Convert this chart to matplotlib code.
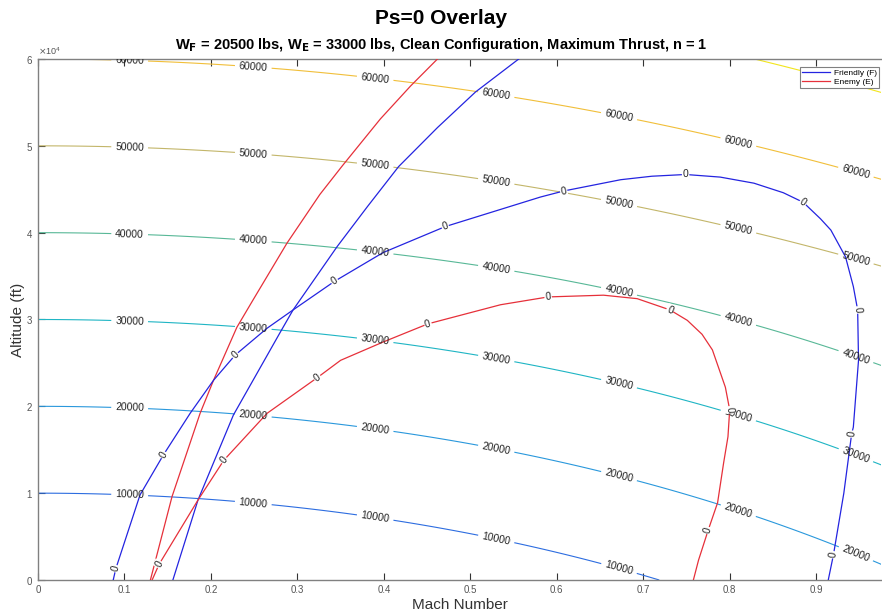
import numpy as np
import matplotlib
matplotlib.use("Agg")
import matplotlib.pyplot as plt
from matplotlib.lines import Line2D

plt.rcParams['font.family'] = ['Liberation Sans', 'DejaVu Sans']

# energy height levels (ft) and their line colours (parula-like)
ENERGY_LEVELS = [10000, 20000, 30000, 40000, 50000, 60000, 70000]
ENERGY_COLORS = ['#2d6de0', '#2a98dc', '#1fb5c4', '#58b897', '#c3b66a', '#f1bf3a', '#f2e51c']
LABELED_LEVELS = [10000, 20000, 30000, 40000, 50000, 60000]
LABEL_MACH = [0.106, 0.249, 0.39, 0.53, 0.672, 0.81, 0.946]

# Ps = 0 boundary, friendly aircraft
F_PS0_MACH = [0.087, 0.090, 0.118, 0.145, 0.176, 0.203, 0.228, 0.265, 0.295, 0.343,
              0.399, 0.471, 0.581, 0.608, 0.674, 0.710, 0.749, 0.789, 0.828, 0.862,
              0.885, 0.905, 0.917, 0.934, 0.943, 0.948, 0.949, 0.943, 0.941, 0.932,
              0.920, 0.914]
F_PS0_ALT = [0, 1300, 9800, 14400, 19200, 23000, 25900, 29000, 31100, 34400,
             37700, 40700, 44100, 44800, 46100, 46500, 46700, 46400, 45700, 44600,
             43500, 41600, 40300, 37200, 33800, 31100, 25300, 17600, 16800, 10000,
             2900, 0]
F_PS0_LABELS = [1, 3, 6, 9, 11, 13, 16, 20, 25, 28, 30]

# Ps = 0 boundary, enemy aircraft
E_PS0_MACH = [0.132, 0.140, 0.185, 0.215, 0.265, 0.323, 0.350, 0.399, 0.451, 0.535,
              0.590, 0.654, 0.693, 0.731, 0.751, 0.768, 0.780, 0.795, 0.800, 0.798,
              0.793, 0.786, 0.775, 0.764, 0.758]
E_PS0_ALT = [0, 1800, 9200, 13800, 19200, 23300, 25300, 27400, 29500, 31700,
             32600, 32800, 32400, 31100, 29900, 28300, 26500, 22200, 19600, 16500,
             13500, 8900, 5700, 2300, 0]
E_PS0_LABELS = [1, 3, 5, 8, 10, 13, 18, 22]

# low speed limit lines
F_LIM_MACH = [0.156, 0.185, 0.226, 0.280, 0.295, 0.346, 0.381, 0.417, 0.462, 0.506, 0.556]
F_LIM_ALT = [0, 9200, 19000, 28500, 31100, 38400, 43000, 47600, 52100, 56200, 60000]
E_LIM_MACH = [0.130, 0.155, 0.1875, 0.203, 0.230, 0.249, 0.288, 0.326, 0.352, 0.396,
              0.431, 0.462]
E_LIM_ALT = [0, 9600, 19200, 23000, 29100, 32300, 38800, 44400, 47700, 53100,
             56900, 60000]

BLUE = '#2424e0'
RED = '#e6303a'
G = 32.174


def speed_of_sound(h):
    T = np.where(h < 36089, 518.67 - 0.0035662 * h, 389.97)
    return np.sqrt(1.4 * 1716.49 * T)


def energy_height(m, h):
    return h + (m * speed_of_sound(h)) ** 2 / (2 * G)


fig = plt.figure(figsize=(8.82, 6.13), dpi=100)
ax = fig.add_axes([38 / 882, 33 / 613, 843 / 882, 521 / 613])
ax.set_xlim(0, 0.975)
ax.set_ylim(0, 60000)

# specific energy contours
mach = np.linspace(0, 1.0, 401)
alt = np.linspace(0, 62000, 621)
M, H = np.meshgrid(mach, alt)
cs = ax.contour(M, H, energy_height(M, H), levels=ENERGY_LEVELS,
                colors=ENERGY_COLORS, linewidths=0.8)

positions = []
for lev in LABELED_LEVELS:
    for m in LABEL_MACH:
        col = energy_height(m, alt)
        if col[0] < lev:
            h = np.interp(lev, col, alt)
            if h <= 60000:
                positions.append((m, h))
ax.clabel(cs, LABELED_LEVELS, inline=True, fmt='%d', fontsize=7.5,
          colors='#222222', manual=positions, inline_spacing=4)


def draw_curve(xs, ys, color, label_idx=()):
    ax.plot(xs, ys, color=color, lw=0.9, zorder=3)
    pts = ax.transData.transform(np.column_stack([xs, ys]))
    for i in label_idx:
        a = pts[max(i - 1, 0)]
        b = pts[min(i + 1, len(xs) - 1)]
        ang = np.degrees(np.arctan2(b[1] - a[1], b[0] - a[0]))
        if ang > 90:
            ang -= 180
        elif ang < -90:
            ang += 180
        ax.text(xs[i], ys[i], '0', rotation=ang, rotation_mode='anchor',
                ha='center', va='center', fontsize=7.5, color='#222222', zorder=5,
                bbox=dict(fc='white', ec='none', pad=0.6))


draw_curve(F_LIM_MACH, F_LIM_ALT, BLUE)
draw_curve(E_LIM_MACH, E_LIM_ALT, RED)
draw_curve(F_PS0_MACH, F_PS0_ALT, BLUE, F_PS0_LABELS)
draw_curve(E_PS0_MACH, E_PS0_ALT, RED, E_PS0_LABELS)

# axes styling
ax.set_xticks(np.arange(0, 1.0, 0.1))
ax.set_xticklabels(['0', '0.1', '0.2', '0.3', '0.4', '0.5', '0.6', '0.7', '0.8', '0.9'])
ax.set_yticks(np.arange(0, 60001, 10000))
ax.ticklabel_format(axis='y', style='sci', scilimits=(4, 4), useMathText=True)
ax.yaxis.get_offset_text().set_fontsize(6.5)
ax.yaxis.get_offset_text().set_color('#555555')
ax.tick_params(direction='in', length=5, width=0.8, labelsize=7, colors='#333333',
               top=True, right=False)
ax.tick_params(axis='both', labelcolor='#555555')
for side in ['left', 'bottom', 'top']:
    ax.spines[side].set_color('#808080')
    ax.spines[side].set_linewidth(1.0)
ax.spines['right'].set_visible(False)

ax.set_xlabel('Mach Number', fontsize=11, color='#333333', labelpad=2)
ax.set_ylabel('Altitude (ft)', fontsize=11, color='#333333', labelpad=1)

fig.text(0.5, 1 - 18 / 613, 'Ps=0 Overlay', ha='center', va='center',
         fontsize=15, fontweight='bold')
fig.text(0.5, 1 - 45 / 613,
         r'W$_{\mathbf{F}}$ = 20500 lbs, W$_{\mathbf{E}}$ = 33000 lbs, '
         'Clean Configuration, Maximum Thrust, n = 1',
         ha='center', va='center', fontsize=10.5, fontweight='bold')

handles = [Line2D([], [], color=BLUE, lw=0.9), Line2D([], [], color=RED, lw=0.9)]
leg = ax.legend(handles, ['Friendly (F)', 'Enemy (E)'], loc='upper right',
                bbox_to_anchor=(1.0, 0.988), fontsize=6, fancybox=False,
                edgecolor='#808080', framealpha=1, handlelength=3.4,
                borderpad=0.3, labelspacing=0.1, handletextpad=0.4,
                borderaxespad=0.2)
leg.get_frame().set_linewidth(0.8)
leg.set_zorder(10)

fig.savefig('out.png', dpi=100)
